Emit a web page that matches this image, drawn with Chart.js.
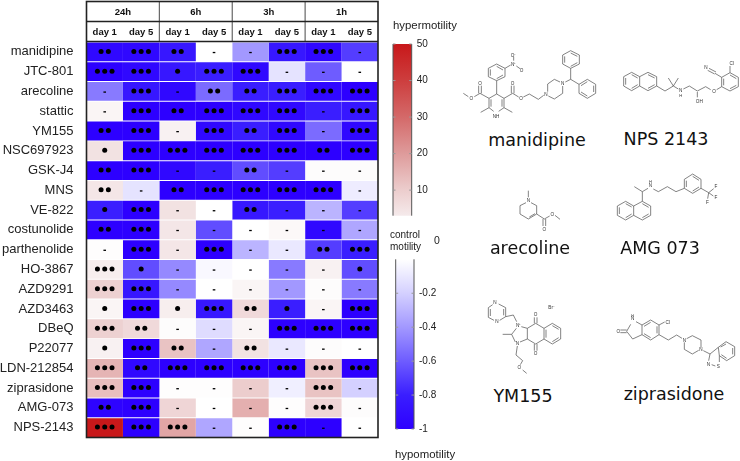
<!DOCTYPE html>
<html lang="en">
<head>
<meta charset="UTF-8">
<title>Motility heatmap</title>
<script src="https://cdn.jsdelivr.net/npm/chart.js"></script>
<style>
    html, body { margin: 0; padding: 0; background: #fff; }
    #page { position: relative; width: 740px; height: 461px; overflow: hidden; }
    canvas { position: absolute; }
    .note { position: absolute; font-family: "Liberation Sans", sans-serif; color: #222; white-space: nowrap; }
    .drug { position: absolute; font-family: "DejaVu Sans", sans-serif; font-size: 17.5px; color: #111; transform: translateX(-50%); white-space: nowrap; }
    svg { position: absolute; }
    svg path { fill: none; stroke: #555; stroke-width: 2.2; }
    svg text { font-family: "Liberation Sans", sans-serif; font-size: 14px; fill: #333; text-anchor: middle; }
</style>
</head>
<body>
<div id="page">
    <canvas id="heatmap" width="382" height="461" style="left:0;top:0"></canvas>
    <canvas id="redBar" width="80" height="200" style="left:380px;top:30px"></canvas>
    <canvas id="blueBar" width="80" height="200" style="left:383px;top:245px"></canvas>

    <div class="note" style="left:393px;top:19px;font-size:11.4px">hypermotility</div>
    <div class="note" style="left:390px;top:229px;font-size:10px;line-height:12px">control<br>motility</div>
    <div class="note" style="left:434px;top:234px;font-size:10.5px">0</div>
    <div class="note" style="left:395px;top:448px;font-size:11.4px;line-height:12px">hypomotility</div>

    <div class="drug" style="left:537px;top:130px">manidipine</div>
    <div class="drug" style="left:666px;top:129px">NPS 2143</div>
    <div class="drug" style="left:530px;top:238px">arecoline</div>
    <div class="drug" style="left:660px;top:238px">AMG 073</div>
    <div class="drug" style="left:523px;top:386px">YM155</div>
    <div class="drug" style="left:674px;top:384px">ziprasidone</div>

    <svg style="left:440px;top:40px" width="300" height="210" viewBox="0 0 900 630">
        <!-- manidipine -->
        <path d="M170 162L147 175L147 203L161 214M176 214L192 203L192 175L170 162M153 178L153 200M186 178L186 200"/>
        <path d="M147 203L122 217M192 203L217 217M147 175L120 160L103 170M85 170L70 160M116 160L116 137M124 160L124 137"/>
        <path d="M192 175L218 160L236 171M250 171L268 162L295 178L311 166M214 160L214 137M222 160L222 137"/>
        <path d="M170 162L170 122L145 110L145 85L170 72L195 85L195 110L170 122M151 107L151 88M170 79L189 90M189 105L170 116M195 85L212 75M221 62L221 50M229 78L240 86"/>
        <path d="M323 155L323 132L343 118L360 126M368 138L368 160L343 177L325 168M376 126L392 118L392 85L368 72L368 45L392 32L418 45L418 72L392 85M374 68L374 49M392 39L412 49M412 68L392 79M392 118L417 133L417 160L442 175L467 160L467 133L442 118L417 133M423 156L442 168M461 156L461 137M442 125L423 137"/>
        <text x="168" y="235">NH</text><text x="120" y="134">O</text><text x="94" y="180">O</text><text x="218" y="134">O</text><text x="243" y="180">O</text>
        <text x="221" y="78">N⁺</text><text x="221" y="50">O⁻</text><text x="245" y="96">O</text><text x="318" y="167">N</text><text x="368" y="135">N</text>
        <!-- NPS 2143 -->
        <path d="M575 97L599 110L599 138L575 152L551 138L551 110L575 97M575 104L593 114M593 134L575 145M557 134L557 114M599 110L624 97L650 110L650 138L624 152L599 138M624 104L644 114M644 134L624 145"/>
        <path d="M650 138L675 153L700 138L685 114M700 138L715 114M700 138L715 147M730 147L748 138L772 153L797 140L812 149M830 149L845 140L845 112L870 98L895 112L895 140L870 153L845 140M851 116L851 136M870 105L889 116M889 136L870 146M772 156L772 172"/>
        <path d="M845 112L825 100M870 98L870 78M828 96L807 85M824 102L803 91"/>
        <text x="722" y="156">N</text><text x="722" y="172" style="font-size:12px">H</text><text x="778" y="188">OH</text><text x="822" y="158">O</text><text x="875" y="74">Cl</text><text x="798" y="88">N</text>
        <!-- arecoline -->
        <path d="M265 472L265 452M258 488L240 497L240 522L265 537L290 522L290 497L273 488M268 531L285 521M290 522L313 537L329 528M345 526L360 538M309 537L309 558M317 537L317 558"/>
        <text x="265" y="486">N</text><text x="337" y="528">O</text><text x="313" y="572">O</text>
        <!-- AMG 073 -->
        <path d="M557 484L581 498L581 526L557 540L532 526L532 498L557 484M557 491L575 501M575 522L557 533M538 522L538 502M581 498L607 484L632 498L632 526L607 540L581 526M607 491L626 502M626 522L607 533"/>
        <path d="M607 484L607 455L583 440M607 455L624 445M640 447L655 455L682 440L708 455L733 445L733 418L758 402L783 418L783 445L758 460L733 445M739 422L739 441M758 409L777 421M777 441L758 453M783 445L806 458L821 446M806 458L820 468M806 458L803 476"/>
        <text x="631" y="442">N</text><text x="631" y="428" style="font-size:12px">H</text><text x="828" y="445">F</text><text x="828" y="478">F</text><text x="802" y="491">F</text>
    </svg>

    <svg style="left:440px;top:240px" width="300" height="200" viewBox="0 0 900 600">
        <!-- YM155 -->
        <path d="M158 194L145 203L145 232L162 241M179 241L197 230L197 203L176 192M151 207L151 228M191 207L191 226M197 230L220 225L230 245"/>
        <path d="M244 260L262 265L262 297L240 306M226 306L215 283L229 265M215 283L188 283M262 265L287 250L312 265L312 297L287 312L262 297M283 250L283 232M291 250L291 232M283 312L283 332M291 312L291 332"/>
        <path d="M312 265L337 250L362 265L362 297L337 312L312 297M337 257L356 268M356 293L337 305M318 293L318 269M232 318L228 345L248 362L241 374M248 390L260 400"/>
        <text x="165" y="192">N</text><text x="171" y="248">N</text><text x="236" y="261">N⁺</text><text x="232" y="316">N</text><text x="287" y="229">O</text><text x="287" y="344">O</text><text x="238" y="387">O</text><text x="335" y="208">Br⁻</text>
        <!-- ziprasidone -->
        <path d="M560 270L541 270M560 278L541 278M560 274L572 253M588 245L606 255L606 284L578 297L560 274M606 255L632 240L657 255L657 284L632 300L606 284M612 259L632 247M651 259L651 280M632 293L612 281"/>
        <path d="M657 255L674 246M657 284L685 300L710 285L726 295M740 296L757 287L783 300L783 322M776 331L757 342L733 328L733 307M790 332L810 342L835 322L858 305L884 320L884 347L860 362L838 347L835 322M842 321L858 312M878 324L878 343M860 355L844 344M810 342L806 362M815 374L826 378M838 347L838 366"/>
        <text x="535" y="279">O</text><text x="578" y="240">N</text><text x="578" y="230" style="font-size:11px">H</text><text x="683" y="251">Cl</text><text x="733" y="305">N</text><text x="783" y="333">N</text><text x="805" y="377">N</text><text x="835" y="385">S</text>
    </svg>
</div>

<script>
    var drugs = ['manidipine', 'JTC-801', 'arecoline', 'stattic', 'YM155', 'NSC697923', 'GSK-J4', 'MNS', 'VE-822', 'costunolide',
        'parthenolide', 'HO-3867', 'AZD9291', 'AZD3463', 'DBeQ', 'P22077', 'LDN-212854', 'ziprasidone', 'AMG-073', 'NPS-2143'];
    var timePoints = ['24h', '6h', '3h', '1h'];
    var dayLabels = ['day 1', 'day 5'];

    // motility per column (one value per drug): negative = hypo, positive = hyper
    var h24day1 = [-0.95, -1, -0.5, 1.5, -1, 5, -1, 4, -0.8, -1, 0.3, 2.5, 9, 1.5, 9, 2, 15, 13, -0.98, 50];
    var h24day5 = [-0.95, -0.95, -0.85, -1, -1, -1, -1, -0.12, -1, -1, -1, -0.65, -0.85, -1, 7, -1, -0.95, -1, -1, -1];
    var h6day1 = [-0.85, -0.85, -0.95, -1, 2, -1, -0.95, -1, 5, 4, 4, -0.45, -0.45, 2.5, 0.5, 12, -1, 0.3, 8, 18];
    var h6day5 = [0, -0.8, -0.55, -1, -0.95, -1, -0.8, -1, 0, -0.65, -1, -0.03, 0, -0.85, -0.15, -0.35, -1, 0.3, 0, -0.35];
    var h3day1 = [-0.4, -0.95, -0.8, -0.95, -0.8, -1, -0.65, -1, -0.85, 0, -0.3, 0, 1.5, 7, 1.5, 5, -1, 10, 16, 0.3];
    var h3day5 = [-0.85, -0.12, -0.8, -0.95, -0.95, -1, -0.7, -1, -0.8, 1, -0.1, -0.5, -0.4, -0.8, -1, -0.1, -1, -0.07, 0.3, -1];
    var h1day1 = [-0.95, -0.6, -0.95, -0.8, -0.55, -1, 0.5, -1, -0.3, -0.95, -0.7, 2, 0.5, 1.5, -1, 0.5, 12, 12, 8, -1];
    var h1day5 = [-0.7, 0, -1, -0.85, -0.95, -1, 0.5, -0.08, -0.7, -0.35, -0.8, -0.65, -0.5, -1, -1, 0, -1, -0.2, 0.5, 0];

    // significance per column: 0 = dash, 1-3 = number of dots
    var sig24day1 = [2, 3, 0, 0, 2, 1, 2, 2, 1, 2, 0, 3, 3, 1, 3, 1, 3, 3, 2, 3];
    var sig24day5 = [3, 3, 3, 3, 3, 3, 3, 0, 3, 3, 3, 1, 3, 3, 2, 3, 2, 3, 3, 3];
    var sig6day1 = [2, 1, 0, 2, 0, 3, 0, 2, 0, 0, 0, 0, 0, 1, 0, 2, 3, 0, 0, 3];
    var sig6day5 = [0, 3, 2, 3, 3, 3, 0, 3, 0, 0, 3, 0, 0, 3, 0, 0, 3, 0, 0, 0];
    var sig3day1 = [0, 3, 2, 3, 2, 3, 2, 3, 2, 0, 0, 0, 0, 2, 0, 2, 3, 0, 0, 0];
    var sig3day5 = [3, 0, 3, 3, 3, 3, 0, 3, 0, 0, 0, 0, 0, 1, 3, 0, 3, 0, 0, 3];
    var sig1day1 = [3, 0, 3, 0, 0, 2, 0, 3, 0, 0, 2, 0, 0, 0, 3, 0, 3, 3, 3, 0];
    var sig1day5 = [0, 0, 3, 3, 3, 3, 0, 0, 0, 0, 3, 1, 0, 3, 3, 0, 3, 0, 0, 0];

    var redTicks = [10, 20, 30, 40, 50];
    var blueTicks = [-1, -0.8, -0.6, -0.4, -0.2];

    var columns = [h24day1, h24day5, h6day1, h6day5, h3day1, h3day5, h1day1, h1day5];
    var marks = [sig24day1, sig24day5, sig6day1, sig6day5, sig3day1, sig3day5, sig1day1, sig1day5];

    // colour ramps as [value, r, g, b]
    var blueRamp = [[-1, 45, 0, 255], [-0.8, 58, 30, 255], [-0.6, 110, 92, 255], [-0.4, 162, 152, 255], [-0.2, 212, 208, 255], [0, 255, 255, 255]];
    var redRamp = [[0, 255, 255, 255], [3, 245, 234, 235], [10, 236, 205, 205], [20, 222, 155, 155], [30, 212, 105, 105], [40, 205, 62, 62], [50, 200, 24, 26]];

    function rgb(c) {
        return 'rgb(' + Math.round(c[0]) + ',' + Math.round(c[1]) + ',' + Math.round(c[2]) + ')';
    }

    function colorFor(v) {
        var ramp = v < 0 ? blueRamp : redRamp;
        for (var i = 1; i < ramp.length; i++) {
            if (v <= ramp[i][0]) {
                var t = (v - ramp[i - 1][0]) / (ramp[i][0] - ramp[i - 1][0]);
                return rgb([1, 2, 3].map(function(k) {
                    return ramp[i - 1][k] + t * (ramp[i][k] - ramp[i - 1][k]);
                }));
            }
        }
        return rgb(ramp[ramp.length - 1].slice(1));
    }

    var heatmapDecor = {
        id: 'heatmapDecor',
        afterDatasetsDraw: function(chart) {
            var c = chart.ctx, x = chart.scales.x, y = chart.scales.y, a = chart.chartArea;
            var top = 1.5, mid = 21.5;

            // significance marks
            c.fillStyle = '#000';
            marks.forEach(function(col, ci) {
                col.forEach(function(n, ri) {
                    var cx = x.getPixelForValue(ci + 0.5), cy = y.getPixelForValue(ri) - 0.5;
                    if (n === 0) {
                        c.fillRect(cx - 1.3, cy + 0.5, 2.6, 1.3);
                    }
                    for (var d = 0; d < n; d++) {
                        c.beginPath();
                        c.arc(cx + (d - (n - 1) / 2) * 7.3, cy, 2.5, 0, Math.PI * 2);
                        c.fill();
                    }
                });
            });

            // header cells
            c.textAlign = 'center';
            c.textBaseline = 'middle';
            c.fillStyle = '#111';
            timePoints.forEach(function(t, i) {
                c.font = 'bold 9.5px "Liberation Sans"';
                c.fillText(t, x.getPixelForValue(i * 2 + 1), 12.5);
                dayLabels.forEach(function(d, k) {
                    c.fillText(d, x.getPixelForValue(i * 2 + k + 0.5), 32.5);
                });
            });
            c.strokeStyle = '#666';
            c.lineWidth = 1.2;
            [2, 4, 6].forEach(function(v) {
                c.beginPath();
                c.moveTo(x.getPixelForValue(v), top);
                c.lineTo(x.getPixelForValue(v), a.top);
                c.stroke();
            });
            c.strokeStyle = '#222';
            c.lineWidth = 1.3;
            c.beginPath();
            c.moveTo(a.left, mid);
            c.lineTo(a.right, mid);
            c.stroke();
            c.lineWidth = 1.6;
            c.beginPath();
            c.moveTo(a.left, a.top - 0.5);
            c.lineTo(a.right, a.top - 0.5);
            c.stroke();
            c.strokeRect(a.left, top, a.right - a.left, a.bottom - top);
        }
    };

    new Chart(document.getElementById('heatmap'), {
        type: 'bar',
        data: {
            labels: drugs,
            datasets: columns.map(function(col, ci) {
                return {
                    data: col.map(function() { return [ci, ci + 1]; }),
                    backgroundColor: col.map(colorFor),
                    barPercentage: 0.95,
                    categoryPercentage: 1,
                    grouped: false
                };
            })
        },
        options: {
            indexAxis: 'y',
            responsive: false,
            animation: false,
            layout: { padding: { top: 42, bottom: 23.5, right: 4, left: 0 } },
            plugins: { legend: { display: false }, tooltip: { enabled: false } },
            scales: {
                x: { type: 'linear', min: 0, max: 8, display: false },
                y: {
                    grid: { display: false, drawTicks: false },
                    border: { display: false },
                    afterFit: function(s) { s.width = 86.5; },
                    ticks: { padding: 13, color: '#222', autoSkip: false, font: { family: 'Liberation Sans', size: 13 } }
                }
            }
        },
        plugins: [heatmapDecor]
    });

    // frame lines and short inward ticks of a colour bar
    var barFrame = {
        id: 'barFrame',
        afterDatasetsDraw: function(chart) {
            var c = chart.ctx, a = chart.chartArea, y = chart.scales.y;
            c.strokeStyle = '#555';
            c.lineWidth = 1;
            c.beginPath();
            c.moveTo(a.left, a.top);
            c.lineTo(a.left, a.bottom);
            c.moveTo(a.right, a.top);
            c.lineTo(a.right, a.bottom);
            c.stroke();
            c.strokeStyle = '#999';
            y.ticks.forEach(function(t) {
                var py = y.getPixelForValue(t.value);
                c.beginPath();
                c.moveTo(a.left, py);
                c.lineTo(a.left + 2.5, py);
                c.moveTo(a.right - 2.5, py);
                c.lineTo(a.right, py);
                c.stroke();
            });
        }
    };

    function colorBar(id, lo, hi, ticks, ramp, pad, wide) {
        new Chart(document.getElementById(id), {
            type: 'bar',
            data: {
                labels: [''],
                datasets: [{
                    data: [[lo, hi]],
                    barPercentage: 1,
                    categoryPercentage: 1,
                    backgroundColor: function(ctx) {
                        var a = ctx.chart.chartArea;
                        if (!a) return '#fff';
                        var y = ctx.chart.scales.y;
                        var g = ctx.chart.ctx.createLinearGradient(0, y.getPixelForValue(lo), 0, y.getPixelForValue(hi));
                        ramp.forEach(function(s) {
                            if (s[0] >= lo && s[0] <= hi) g.addColorStop((s[0] - lo) / (hi - lo), rgb(s.slice(1)));
                        });
                        return g;
                    }
                }]
            },
            options: {
                responsive: false,
                animation: false,
                layout: { padding: pad },
                plugins: { legend: { display: false }, tooltip: { enabled: false } },
                scales: {
                    x: { display: false },
                    y: {
                        position: 'right',
                        min: lo,
                        max: hi,
                        grid: { display: false, drawTicks: false },
                        border: { display: false },
                        afterBuildTicks: function(s) { s.ticks = ticks.map(function(v) { return { value: v }; }); },
                        afterFit: function(s) { s.width = wide; },
                        ticks: {
                            padding: 5,
                            color: '#222',
                            font: { family: 'Liberation Sans', size: 10 },
                            callback: function(v) { return String(v); }
                        }
                    }
                }
            },
            plugins: [barFrame]
        });
    }

    colorBar('redBar', 3, 50, redTicks, redRamp, { left: 13, top: 14, bottom: 14.3, right: 0 }, 48.3);
    colorBar('blueBar', -1, 0, blueTicks, blueRamp, { left: 12.7, top: 14.3, bottom: 16, right: 0 }, 49);
</script>
</body>
</html>
